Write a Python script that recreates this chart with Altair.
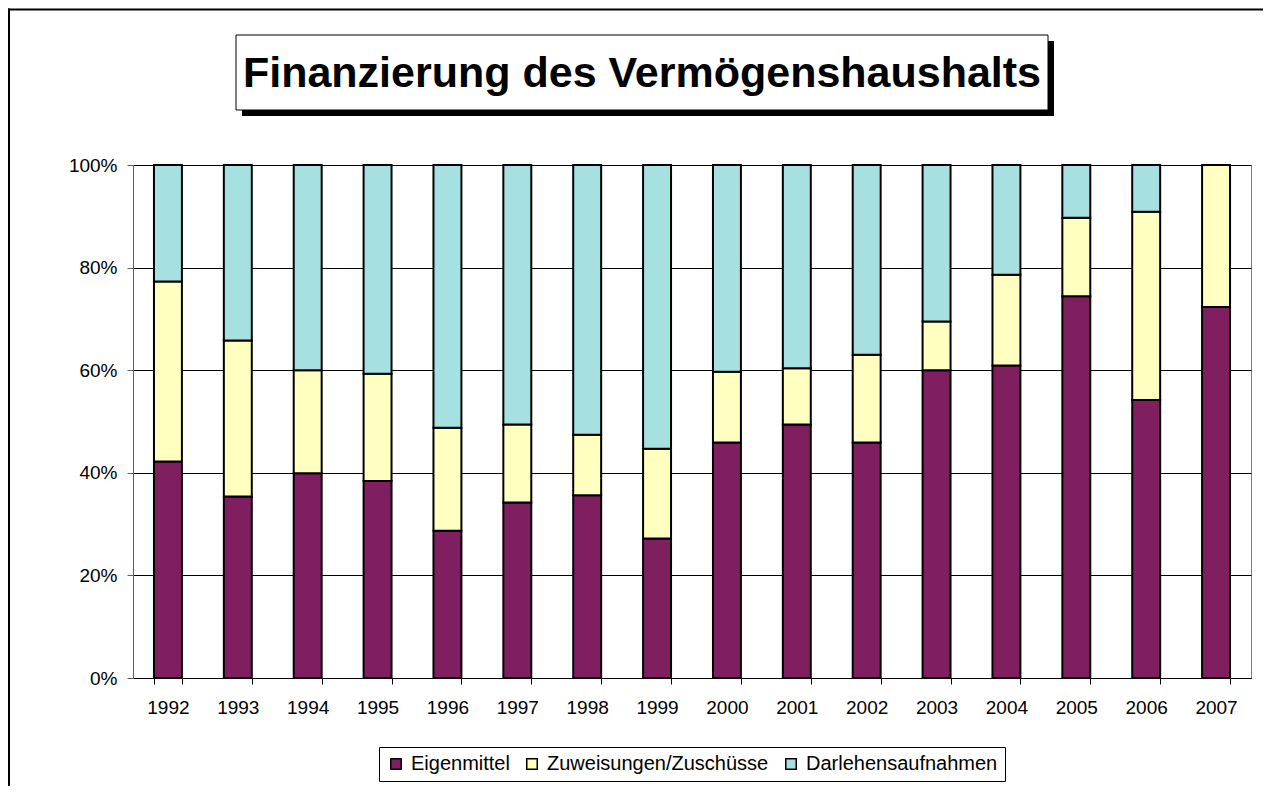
import altair as alt
import pandas as pd

years = ["1992", "1993", "1994", "1995", "1996", "1997", "1998", "1999",
         "2000", "2001", "2002", "2003", "2004", "2005", "2006", "2007"]
eigenmittel = [42.2, 35.4, 39.9, 38.4, 28.7, 34.2, 35.6, 27.2,
               45.9, 49.4, 45.9, 60.0, 60.9, 74.4, 54.2, 72.3]
zuweisungen = [35.1, 30.4, 20.1, 20.9, 20.1, 15.2, 11.8, 17.5,
               13.8, 11.0, 17.1, 9.5, 17.7, 15.3, 36.7, 27.7]
darlehen = [22.7, 34.2, 40.0, 40.7, 51.2, 50.6, 52.6, 55.3,
            40.3, 39.6, 37.0, 30.5, 21.4, 10.3, 9.1, 0.0]
series = ["Eigenmittel", "Zuweisungen/Zuschüsse", "Darlehensaufnahmen"]
colors = ["#7F1F5F", "#FFFFC0", "#A6E0E0"]
y_ticks = [0, 0.2, 0.4, 0.6, 0.8, 1.0]
title_text = "Finanzierung des Vermögenshaushalts"

rows = []
for i, yr in enumerate(years):
    for k, vals in enumerate([eigenmittel, zuweisungen, darlehen]):
        if vals[i] > 0:
            rows.append({"Jahr": yr, "Reihe": series[k], "Wert": vals[i], "ord": k})
df = pd.DataFrame(rows)
one = pd.DataFrame({"v": [0]})

FONT = "Liberation Sans"
W, H = 1118, 513

bars = alt.Chart(df).mark_bar(stroke="black", strokeWidth=2).encode(
    x=alt.X("Jahr:N", sort=years,
            scale=alt.Scale(paddingInner=0.6, paddingOuter=0.3),
            axis=alt.Axis(title=None, labelAngle=0, tickBand="extent",
                          tickSize=6, labelPadding=14, domainColor="#000000",
                          tickColor="#000000", labelFont=FONT, labelFontSize=19,
                          labelColor="#000000", grid=False)),
    y=alt.Y("Wert:Q", stack="normalize",
            scale=alt.Scale(domain=[0, 1]),
            axis=alt.Axis(title=None, format=".0%", values=y_ticks,
                          tickSize=6, labelPadding=10, domainColor="#606060",
                          tickColor="#606060", labelFont=FONT, labelFontSize=19,
                          labelColor="#000000", grid=True, gridColor="#000000",
                          gridWidth=1)),
    color=alt.Color("Reihe:N", scale=alt.Scale(domain=series, range=colors),
                    legend=alt.Legend(title=None, orient="none", legendX=246,
                                      legendY=582, direction="horizontal",
                                      strokeColor="#000000", fillColor="#FFFFFF",
                                      padding=7, symbolType="square",
                                      symbolSize=110, symbolStrokeColor="#000000",
                                      symbolStrokeWidth=1.5, symbolOpacity=1,
                                      labelFont=FONT, labelFontSize=20,
                                      labelLimit=0,
                                      labelColor="#000000", labelOffset=5,
                                      columnPadding=12)),
    order=alt.Order("ord:Q", sort="ascending"),
)

frame_top = alt.Chart(one).mark_rule(color="#000000", strokeWidth=2).encode(
    x=alt.value(-125), x2=alt.value(1200), y=alt.value(-155.5))
frame_left = alt.Chart(one).mark_rule(color="#000000", strokeWidth=2).encode(
    x=alt.value(-124), y=alt.value(-156.5), y2=alt.value(700))
shadow = alt.Chart(one).mark_rect(color="#000000").encode(
    x=alt.value(109), x2=alt.value(921), y=alt.value(-124), y2=alt.value(-49))
box = alt.Chart(one).mark_rect(fill="#FFFFFF", stroke="#000000", strokeWidth=1).encode(
    x=alt.value(103), x2=alt.value(915), y=alt.value(-130), y2=alt.value(-55))
title = alt.Chart(one).mark_text(text=title_text, font=FONT, fontSize=43,
                                 fontWeight="bold", align="center",
                                 baseline="middle", color="#000000").encode(
    x=alt.value(509), y=alt.value(-91))

chart = alt.layer(frame_top, frame_left, shadow, box, title, bars).properties(
    width=W, height=H,
    padding={"left": 125, "top": 157, "right": 12, "bottom": 108},
    autosize=alt.AutoSizeParams(type="none"),
    background="#FFFFFF",
).configure_view(stroke="#808080", strokeWidth=1)

chart.save("out.html", embed_options={"renderer": "svg", "actions": False})
